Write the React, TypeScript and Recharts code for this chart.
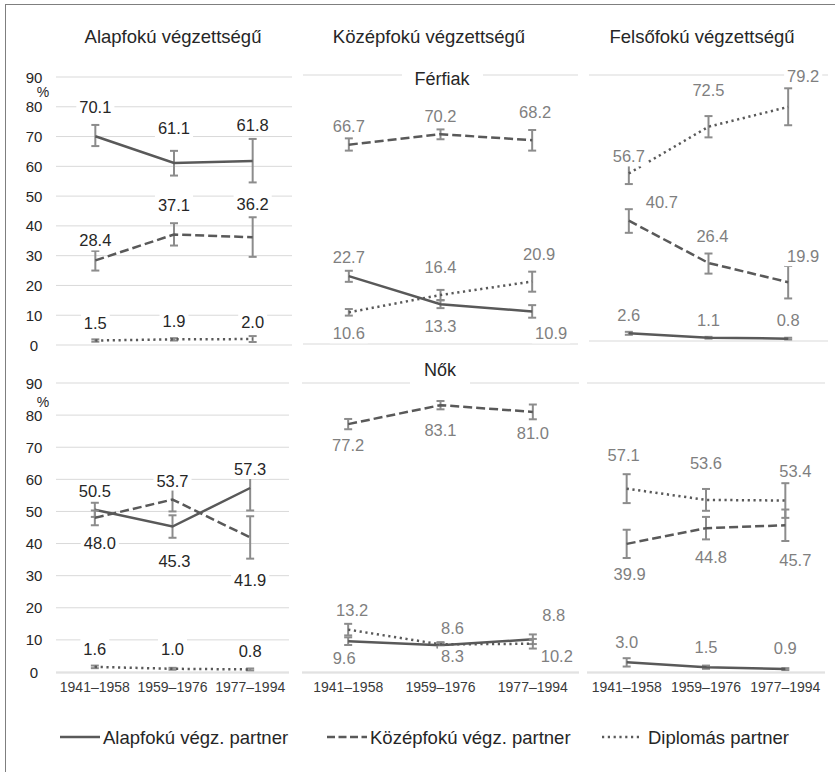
import React from 'react'
import { LineChart, Line, XAxis, YAxis, CartesianGrid, ErrorBar, LabelList } from 'recharts'

const cohorts = ['1941–1958', '1959–1976', '1977–1994']
const yTicks = [0, 10, 20, 30, 40, 50, 60, 70, 80, 90]

// Férfiak – alapfokú végzettségű
const ferfiAlapAlap = [70.1, 61.1, 61.8]
const ferfiAlapAlapCi = [[66.8, 73.9], [56.9, 65.2], [54.6, 69.2]]
const ferfiAlapKozep = [28.4, 37.1, 36.2]
const ferfiAlapKozepCi = [[25.0, 31.6], [33.4, 40.9], [29.6, 42.9]]
const ferfiAlapDipl = [1.5, 1.9, 2.0]
const ferfiAlapDiplCi = [[1.1, 1.9], [1.5, 2.3], [1.0, 3.0]]

// Férfiak – középfokú végzettségű
const ferfiKozepAlap = [22.7, 13.3, 10.9]
const ferfiKozepAlapCi = [[20.8, 24.5], [12.0, 14.6], [8.8, 13.0]]
const ferfiKozepKozep = [66.7, 70.2, 68.2]
const ferfiKozepKozepCi = [[64.7, 68.8], [68.5, 71.8], [64.7, 71.6]]
const ferfiKozepDipl = [10.6, 16.4, 20.9]
const ferfiKozepDiplCi = [[9.5, 11.7], [14.7, 18.1], [17.5, 24.2]]

// Férfiak – felsőfokú végzettségű
const ferfiFelsoAlap = [2.6, 1.1, 0.8]
const ferfiFelsoAlapCi = [[2.1, 3.1], [0.8, 1.4], [0.5, 1.1]]
const ferfiFelsoKozep = [40.7, 26.4, 19.9]
const ferfiFelsoKozepCi = [[36.6, 44.6], [22.8, 29.6], [14.4, 25.4]]
const ferfiFelsoDipl = [56.7, 72.5, 79.2]
const ferfiFelsoDiplCi = [[53.1, 60.3], [68.9, 76.1], [73.0, 85.5]]

// Nők – alapfokú végzettségű
const noAlapAlap = [50.5, 45.3, 57.3]
const noAlapAlapCi = [[48.3, 52.7], [41.8, 48.8], [50.3, 64.3]]
const noAlapKozep = [48.0, 53.7, 41.9]
const noAlapKozepCi = [[45.7, 50.3], [50.0, 57.2], [35.3, 48.5]]
const noAlapDipl = [1.6, 1.0, 0.8]
const noAlapDiplCi = [[1.2, 2.0], [0.7, 1.3], [0.5, 1.1]]

// Nők – középfokú végzettségű
const noKozepAlap = [9.6, 8.3, 10.2]
const noKozepAlapCi = [[8.4, 10.8], [7.6, 9.0], [8.7, 11.7]]
const noKozepKozep = [77.2, 83.1, 81.0]
const noKozepKozepCi = [[75.6, 78.8], [81.8, 84.4], [78.7, 83.3]]
const noKozepDipl = [13.2, 8.6, 8.8]
const noKozepDiplCi = [[11.4, 15.0], [7.9, 9.3], [7.3, 10.3]]

// Nők – felsőfokú végzettségű
const noFelsoAlap = [3.0, 1.5, 0.9]
const noFelsoAlapCi = [[1.7, 4.3], [1.0, 2.0], [0.6, 1.2]]
const noFelsoKozep = [39.9, 44.8, 45.7]
const noFelsoKozepCi = [[35.5, 44.3], [41.3, 48.3], [40.8, 50.6]]
const noFelsoDipl = [57.1, 53.6, 53.4]
const noFelsoDiplCi = [[52.6, 61.6], [50.2, 57.0], [48.0, 58.8]]

const FONT = '"Liberation Sans", Arial, sans-serif'
const LINE = '#595959'
const BAR = '#8c8c8c'
const GRID = '#d9d9d9'
const DARK = '#262626'
const GREY = '#7f7f7f'
const DASH = '9 4'
const DOT = '2.2 3.6'
const PAD = 40

type Off = [number, number][]

const toRows = (a: number[], ac: number[][], k: number[], kc: number[][], d: number[], dc: number[][]) =>
  cohorts.map((c, i) => ({
    cohort: c,
    alap: a[i], alapErr: [a[i] - ac[i][0], ac[i][1] - a[i]],
    kozep: k[i], kozepErr: [k[i] - kc[i][0], kc[i][1] - k[i]],
    dipl: d[i], diplErr: [d[i] - dc[i][0], dc[i][1] - d[i]],
  }))

// data label with white box, nudged like the hand-placed Excel labels
const makeLabel = (series: number[], offs: Off, color: string) => (props: any) => {
  const { x, y, value } = props
  if (x == null || y == null || value == null) return null
  const i = typeof props.index === 'number' ? props.index : series.indexOf(Number(value))
  const [dx, dy] = offs[i] ?? [0, -20]
  const txt = Number(value).toFixed(1)
  const fs = 16.5
  const tw = (txt.length - 1) * 0.556 * fs + 0.278 * fs
  const cx = x + dx
  const cy = y + dy
  return (
    <g>
      <rect x={cx - tw / 2 - 3} y={cy - 10} width={tw + 6} height={20} fill="#fff" />
      <text x={cx} y={cy} textAnchor="middle" dominantBaseline="central"
        fontSize={fs} fill={color} fontFamily={FONT}>{txt}</text>
    </g>
  )
}

const YTick = ({ y, payload }: any) => (
  <text x={28} y={y} textAnchor="middle" dominantBaseline="central"
    fontSize={15} fill={DARK} fontFamily={FONT}>{payload.value}</text>
)

const XTick = ({ x, y, payload }: any) => (
  <text x={x} y={y + 15} textAnchor="middle" dominantBaseline="central"
    fontSize={14} fill="#3a3a3a" fontFamily={FONT}>{payload.value}</text>
)

interface PanelProps {
  x0: number; x1: number; y0: number; y1: number
  a: number[]; ac: number[][]; k: number[]; kc: number[][]; d: number[]; dc: number[][]
  offs: { alap: Off; kozep: Off; dipl: Off }
  labelColor: string
  yAxis?: boolean
  xAxis?: boolean
}

function Panel({ x0, x1, y0, y1, a, ac, k, kc, d, dc, offs, labelColor, yAxis, xAxis }: PanelProps) {
  const rows = toRows(a, ac, k, kc, d, dc)
  const w = x1 - x0
  const h = y1 - y0
  const ml = yAxis ? x0 - 6 : PAD
  // the two bottom axes each take 1px of height
  const mb = xAxis ? PAD - 2 : PAD
  return (
    <div style={{ position: 'absolute', left: x0 - ml, top: y0 - PAD }}>
      <LineChart width={w + ml + PAD} height={h + 2 * PAD} data={rows}
        margin={{ top: PAD, right: PAD, bottom: mb, left: yAxis ? 0 : PAD }}>
        <CartesianGrid vertical={false} stroke={GRID} xAxisId="cat" />
        {xAxis && (
          <XAxis xAxisId="edge" type="number" domain={[0, 3]} ticks={[0, 1, 2, 3]}
            allowDataOverflow height={1} tick={false} tickSize={5}
            axisLine={{ stroke: GRID }} tickLine={{ stroke: GRID }} />
        )}
        <XAxis xAxisId="cat" dataKey="cohort" hide={!xAxis} height={1}
          padding={{ left: w / 6, right: w / 6 }}
          axisLine={false} tickLine={false} tickSize={0} tickMargin={0}
          tick={<XTick />} interval={0} />
        <YAxis domain={[0, 90]} ticks={yTicks} interval={0} width={yAxis ? ml : 0}
          axisLine={false} tickLine={false} tick={yAxis ? <YTick /> : false} />

        <Line xAxisId="cat" dataKey="alap" stroke={LINE} strokeWidth={2.5}
          dot={false} activeDot={false} isAnimationActive={false}>
          <ErrorBar dataKey="alapErr" width={4} stroke={BAR} strokeWidth={2} direction="y" />
        </Line>
        <Line xAxisId="cat" dataKey="kozep" stroke={LINE} strokeWidth={2.5} strokeDasharray={DASH}
          dot={false} activeDot={false} isAnimationActive={false}>
          <ErrorBar dataKey="kozepErr" width={4} stroke={BAR} strokeWidth={2} direction="y" />
        </Line>
        <Line xAxisId="cat" dataKey="dipl" stroke={LINE} strokeWidth={2.5} strokeDasharray={DOT}
          dot={false} activeDot={false} isAnimationActive={false}>
          <ErrorBar dataKey="diplErr" width={4} stroke={BAR} strokeWidth={2} direction="y" />
        </Line>

        {/* labels drawn last so their white boxes sit over everything */}
        <Line xAxisId="cat" dataKey="alap" stroke="none" dot={false} activeDot={false}
          isAnimationActive={false} legendType="none">
          <LabelList dataKey="alap" content={makeLabel(a, offs.alap, labelColor)} />
        </Line>
        <Line xAxisId="cat" dataKey="kozep" stroke="none" dot={false} activeDot={false}
          isAnimationActive={false} legendType="none">
          <LabelList dataKey="kozep" content={makeLabel(k, offs.kozep, labelColor)} />
        </Line>
        <Line xAxisId="cat" dataKey="dipl" stroke="none" dot={false} activeDot={false}
          isAnimationActive={false} legendType="none">
          <LabelList dataKey="dipl" content={makeLabel(d, offs.dipl, labelColor)} />
        </Line>
      </LineChart>
    </div>
  )
}

export default function App() {
  const title = { fontSize: 18.5, fill: DARK, fontFamily: FONT, textAnchor: 'middle' as const }
  const legendText = { fontSize: 18.5, fill: DARK, fontFamily: FONT, dominantBaseline: 'central' as const }
  return (
    <div style={{ position: 'absolute', left: 0, top: 0, width: 835, height: 772, overflow: 'hidden', background: '#fff' }}>
      <div style={{ position: 'absolute', left: 5, top: 4, width: 900, height: 900, border: '1.5px solid #7f7f7f' }} />

      <Panel x0={56} x1={292} y0={77} y1={345} yAxis labelColor={DARK}
        a={ferfiAlapAlap} ac={ferfiAlapAlapCi} k={ferfiAlapKozep} kc={ferfiAlapKozepCi}
        d={ferfiAlapDipl} dc={ferfiAlapDiplCi}
        offs={{
          alap: [[0, -29], [0, -35], [0, -36]],
          kozep: [[0, -20], [0, -30], [0, -33]],
          dipl: [[0, -18], [0, -18], [0, -17]],
        }} />
      <Panel x0={303} x1={578} y0={75} y1={344} labelColor={GREY}
        a={ferfiKozepAlap} ac={ferfiKozepAlapCi} k={ferfiKozepKozep} kc={ferfiKozepKozepCi}
        d={ferfiKozepDipl} dc={ferfiKozepDiplCi}
        offs={{
          alap: [[0, -19], [0, 22], [19, 22]],
          kozep: [[0, -19], [0, -18], [3, -28]],
          dipl: [[0, 21], [0, -28], [7, -28]],
        }} />
      <Panel x0={589} x1={828} y0={75} y1={341} labelColor={GREY}
        a={ferfiFelsoAlap} ac={ferfiFelsoAlapCi} k={ferfiFelsoKozep} kc={ferfiFelsoKozepCi}
        d={ferfiFelsoDipl} dc={ferfiFelsoDiplCi}
        offs={{
          alap: [[0, -18], [0, -18], [0, -19]],
          kozep: [[33, -19], [4, -27], [15, -26]],
          dipl: [[0, -17], [0, -37], [15, -31]],
        }} />

      <Panel x0={56} x1={289} y0={383} y1={672} yAxis xAxis labelColor={DARK}
        a={noAlapAlap} ac={noAlapAlapCi} k={noAlapKozep} kc={noAlapKozepCi}
        d={noAlapDipl} dc={noAlapDiplCi}
        offs={{
          alap: [[0, -19], [2, 34], [0, -19]],
          kozep: [[5, 25], [0, -19], [0, 43]],
          dipl: [[0, -18], [0, -20], [0, -18]],
        }} />
      <Panel x0={302} x1={579} y0={383} y1={672} xAxis labelColor={GREY}
        a={noKozepAlap} ac={noKozepAlapCi} k={noKozepKozep} kc={noKozepKozepCi}
        d={noKozepDipl} dc={noKozepDiplCi}
        offs={{
          alap: [[-4, 17], [12, 11], [24, 17]],
          kozep: [[0, 21], [0, 25], [0, 21]],
          dipl: [[4, -20], [12, -16], [21, -29]],
        }} />
      <Panel x0={587} x1={825} y0={383} y1={672} xAxis labelColor={GREY}
        a={noFelsoAlap} ac={noFelsoAlapCi} k={noFelsoKozep} kc={noFelsoKozepCi}
        d={noFelsoDipl} dc={noFelsoDiplCi}
        offs={{
          alap: [[0, -20], [0, -20], [0, -21]],
          kozep: [[3, 30], [5, 29], [10, 35]],
          dipl: [[-3, -34], [0, -37], [10, -30]],
        }} />

      <svg width={835} height={772} style={{ position: 'absolute', left: 0, top: 0, pointerEvents: 'none' }}>
        <text x={173} y={43} {...title}>Alapfokú végzettségű</text>
        <text x={429} y={43} {...title}>Középfokú végzettségű</text>
        <text x={702} y={43} {...title}>Felsőfokú végzettségű</text>

        <rect x={402} y={64} width={81} height={24} fill="#fff" />
        <text x={442} y={85} {...title} fontSize={18}>Férfiak</text>
        <rect x={410} y={359} width={60} height={26} fill="#fff" />
        <text x={440} y={376} {...title} fontSize={18}>Nők</text>

        <text x={43} y={92} fontSize={14} fill={DARK} fontFamily={FONT} textAnchor="middle" dominantBaseline="central">%</text>
        <text x={43} y={402} fontSize={14} fill={DARK} fontFamily={FONT} textAnchor="middle" dominantBaseline="central">%</text>

        <line x1={60} x2={100} y1={737} y2={737} stroke={LINE} strokeWidth={2.5} />
        <text x={103} y={737} {...legendText}>Alapfokú végz. partner</text>
        <line x1={327} x2={367} y1={737} y2={737} stroke={LINE} strokeWidth={2.5} strokeDasharray="8 3.5" />
        <text x={370} y={737} {...legendText}>Középfokú végz. partner</text>
        <line x1={602} x2={642} y1={737} y2={737} stroke={LINE} strokeWidth={2.5} strokeDasharray={DOT} />
        <text x={648} y={737} {...legendText}>Diplomás partner</text>
      </svg>
    </div>
  )
}
